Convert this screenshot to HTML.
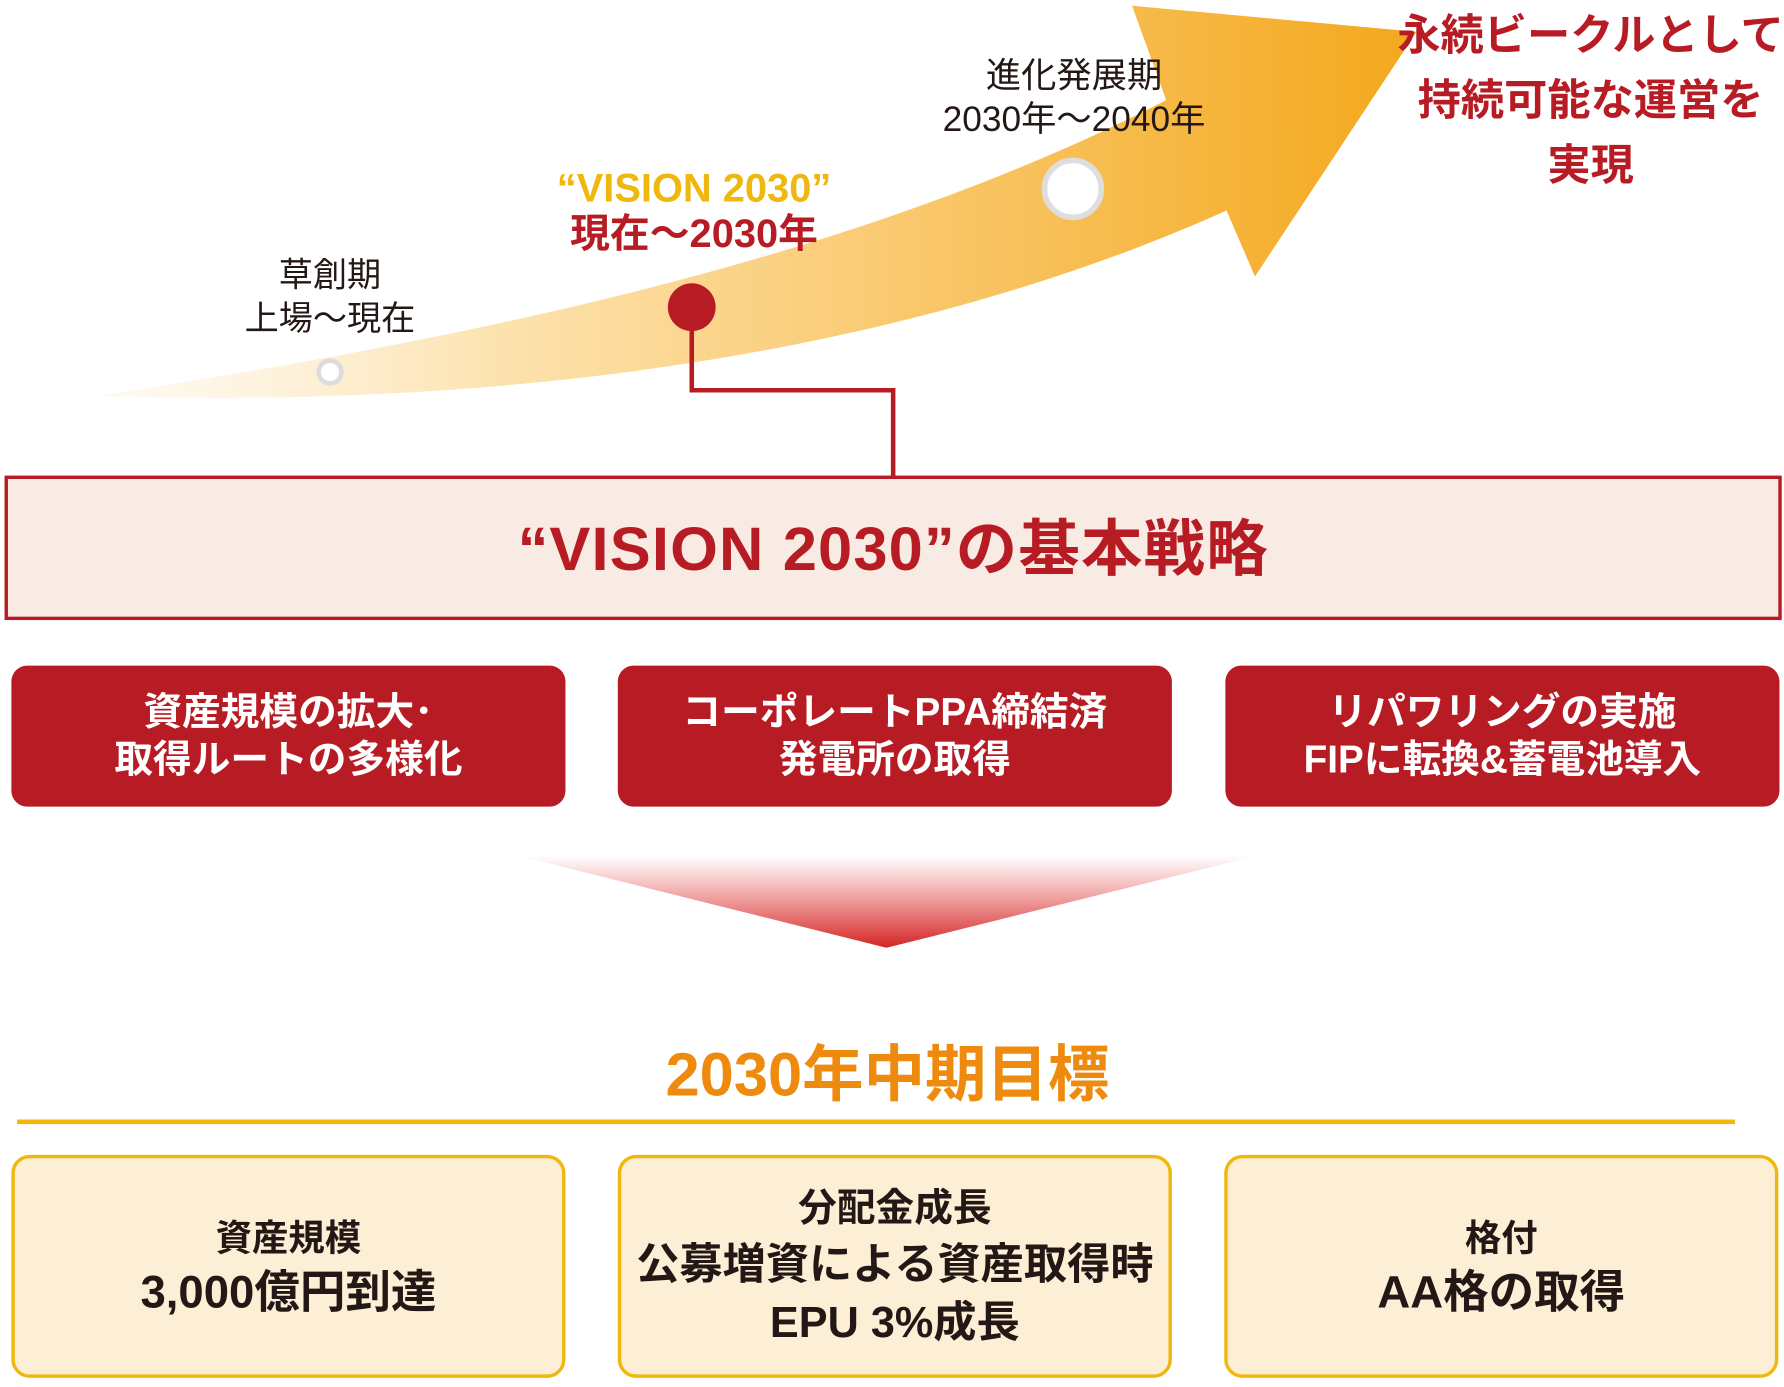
<!DOCTYPE html>
<html><head><meta charset="utf-8"><style>
html,body{margin:0;padding:0;background:#fff;width:1784px;height:1387px;overflow:hidden}
#w{position:absolute;left:0;top:0;width:1568px;height:1219px;transform:scale(1.13776);transform-origin:0 0;font-family:"Liberation Sans","Noto Sans CJK JP",sans-serif}
.a{position:absolute;text-align:center;white-space:nowrap}
.rb{position:absolute;top:585px;height:124px;width:487px;background:#b71c24;border-radius:14px;color:#fff;font-weight:bold;font-size:34px;line-height:42px;display:flex;align-items:center;justify-content:center;text-align:center}
.yb{position:absolute;top:1015px;height:196px;width:487px;box-sizing:border-box;background:#fcefd6;border:3px solid #f0b70f;border-radius:16px;color:#231815;font-weight:bold;display:flex;align-items:center;justify-content:center;text-align:center}
</style></head><body><div id="w">
<svg width="1568" height="1219" style="position:absolute;left:0;top:0">
<defs>
<linearGradient id="g" x1="85" y1="0" x2="1245" y2="0" gradientUnits="userSpaceOnUse">
<stop offset="0" stop-color="#fdf0d8" stop-opacity="0.3"/><stop offset="0.3" stop-color="#fde3b0"/><stop offset="1" stop-color="#f4a81c"/></linearGradient>
<linearGradient id="t" x1="0" y1="752" x2="0" y2="833" gradientUnits="userSpaceOnUse">
<stop offset="0" stop-color="#e23a3a" stop-opacity="0"/><stop offset="1" stop-color="#d42424"/></linearGradient>
</defs>
<path d="M85,348 C400,300 750,230 1025,88 L995,5 L1245,28 L1103,243 L1078,185 C800,310 450,360 85,348 Z" fill="url(#g)"/>
<circle cx="290" cy="327" r="10" fill="#fff" stroke="#dcdcdc" stroke-width="4"/>
<circle cx="943" cy="166" r="25" fill="#fff" stroke="#dedede" stroke-width="5"/>
<polyline points="608,270 608,343 785,343 785,420" fill="none" stroke="#b71c24" stroke-width="4"/>
<circle cx="608" cy="270" r="21" fill="#b71c24"/>
<rect x="5.5" y="419.5" width="1559" height="124" fill="#f7ebe4" stroke="#b71c24" stroke-width="3"/>
<polygon points="455,752 1105,752 779,833" fill="url(#t)"/>
<line x1="15" y1="986" x2="1525" y2="986" stroke="#f0b70f" stroke-width="4"/>
</svg>
<div class="a" style="left:190px;top:224px;width:200px;font-size:30px;line-height:38px;color:#231815">草創期<br>上場〜現在</div>
<div class="a" style="left:450px;top:146px;width:320px;font-size:35px;line-height:40px;font-weight:bold"><span style="color:#f0b70f">“VISION 2030”</span><br><span style="color:#b71c24">現在〜2030年</span></div>
<div class="a" style="left:794px;top:48px;width:300px;font-size:31px;line-height:38px;color:#231815">進化発展期<br>2030年〜2040年</div>
<div class="a" style="left:1228px;top:4px;width:340px;font-size:38px;line-height:57px;font-weight:bold;color:#b71c24">永続ビークルとして<br>持続可能な運営を<br>実現</div>
<div class="a" style="left:5px;top:450px;width:1560px;font-size:54px;line-height:66px;font-weight:bold;color:#b71c24;letter-spacing:1px">“VISION 2030”の基本戦略</div>
<div class="rb" style="left:10px">資産規模の拡大･<br>取得ルートの多様化</div>
<div class="rb" style="left:543px">コーポレートPPA締結済<br>発電所の取得</div>
<div class="rb" style="left:1077px">リパワリングの実施<br>FIPに転換&amp;蓄電池導入</div>
<div class="a" style="left:380px;top:910px;width:800px;font-size:54px;line-height:70px;font-weight:bold;color:#ee8a0e">2030年中期目標</div>
<div class="yb" style="left:10px"><div><div style="font-size:32px;line-height:46px">資産規模</div><div style="font-size:40px;line-height:50px">3,000億円到達</div></div></div>
<div class="yb" style="left:543px"><div style="font-size:34px;line-height:50px">分配金成長<br><span style="font-size:38px">公募増資による資産取得時</span><br><span style="font-size:38px">EPU 3%成長</span></div></div>
<div class="yb" style="left:1076px"><div><div style="font-size:32px;line-height:46px">格付</div><div style="font-size:40px;line-height:50px">AA格の取得</div></div></div>
</div></body></html>
